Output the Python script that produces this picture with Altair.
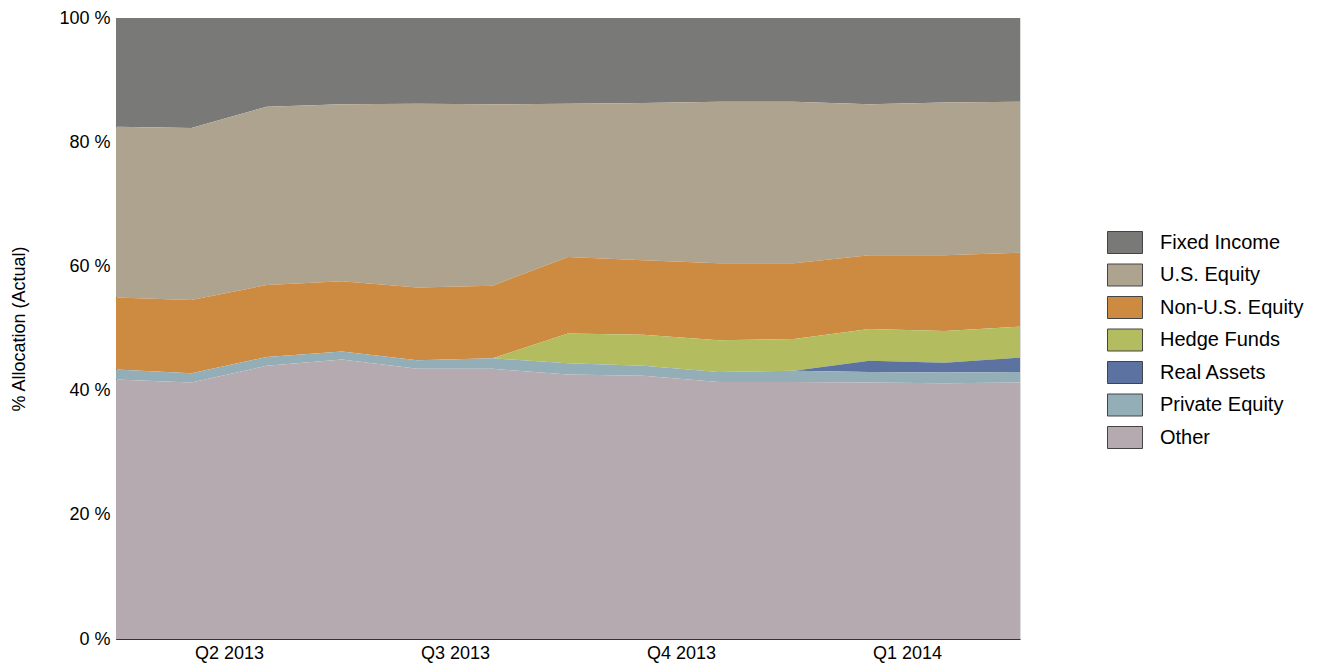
import altair as alt
import pandas as pd

months = list(range(13))
quarter_pos = [1.5, 4.5, 7.5, 10.5]
quarter_labels = ["Q2 2013", "Q3 2013", "Q4 2013", "Q1 2014"]

categories = ["Fixed Income", "U.S. Equity", "Non-U.S. Equity", "Hedge Funds",
              "Real Assets", "Private Equity", "Other"]
colors = ["#797977", "#AEA38F", "#CD8B42", "#B3BC5E", "#5C72A0", "#93AEB6", "#B5AAB0"]

fixed_income = [17.5, 17.7, 14.3, 13.9, 13.8, 13.9, 13.8, 13.7, 13.5, 13.5, 13.9, 13.6, 13.5]
us_equity = [27.5, 27.7, 28.7, 28.5, 29.6, 29.2, 24.7, 25.3, 26.0, 26.0, 24.3, 24.6, 24.3]
non_us_equity = [11.6, 11.8, 11.6, 11.3, 11.7, 11.7, 12.3, 12.0, 12.4, 12.2, 11.9, 12.2, 11.9]
hedge_funds = [0, 0, 0, 0, 0, 0, 4.8, 5.0, 5.1, 5.1, 5.1, 5.1, 5.0]
real_assets = [0, 0, 0, 0, 0, 0, 0, 0, 0, 0, 1.8, 1.6, 2.3]
private_equity = [1.6, 1.5, 1.4, 1.3, 1.4, 1.7, 1.8, 1.6, 1.6, 1.8, 1.7, 1.7, 1.7]
other = [41.8, 41.3, 44.0, 45.0, 43.5, 43.5, 42.6, 42.4, 41.4, 41.4, 41.3, 41.2, 41.3]

series = [fixed_income, us_equity, non_us_equity, hedge_funds, real_assets, private_equity, other]

rows = []
for ci, (cat, vals) in enumerate(zip(categories, series)):
    for m, v in zip(months, vals):
        rows.append({"month": m, "category": cat, "value": v, "ord": len(categories) - 1 - ci})
df = pd.DataFrame(rows)

label_expr = " : ".join(
    f"datum.value == {p} ? '{l}'" for p, l in zip(quarter_pos, quarter_labels)
) + " : ''"

font = "Liberation Sans"

chart = alt.Chart(df).mark_area(interpolate="linear").encode(
    x=alt.X("month:Q", scale=alt.Scale(domain=[0, 12], nice=False, zero=False),
            axis=alt.Axis(values=quarter_pos, labelExpr=label_expr, ticks=False, grid=False,
                          title=None, labelFontSize=18, labelFont=font, labelColor="#000",
                          labelPadding=5, domainColor="#333", labelFlush=False)),
    y=alt.Y("value:Q", stack="zero", scale=alt.Scale(domain=[0, 100], nice=False),
            axis=alt.Axis(values=[0, 20, 40, 60, 80, 100], labelExpr="datum.value + ' %'",
                          ticks=False, grid=False, title="% Allocation (Actual)",
                          titleFontSize=18, titleFontWeight="normal", titleFont=font,
                          titleColor="#000", labelFontSize=18, labelFont=font,
                          labelColor="#000", labelPadding=6, titlePadding=30,
                          domainColor="#111")),
    color=alt.Color("category:N", scale=alt.Scale(domain=categories, range=colors),
                    legend=alt.Legend(title=None, orient="none", legendX=997.5, legendY=213,
                                      symbolType="M-1.59,-1H1.59V1H-1.59Z", symbolSize=484,
                                      symbolStrokeColor="#444", symbolStrokeWidth=1,
                                      symbolOpacity=1, labelFontSize=20, labelFont=font,
                                      labelColor="#000", rowPadding=5.5, labelOffset=23.5,
                                      padding=0)),
    order=alt.Order("ord:Q", sort="ascending"),
).properties(
    width=904, height=621,
    autosize=alt.AutoSizeParams(type="none"),
    padding={"left": 108, "top": 10, "right": 290, "bottom": 40},
).configure_view(stroke="#888", strokeWidth=1).configure(background="white")

chart.save("out.html", embed_options={"renderer": "svg", "actions": False})
